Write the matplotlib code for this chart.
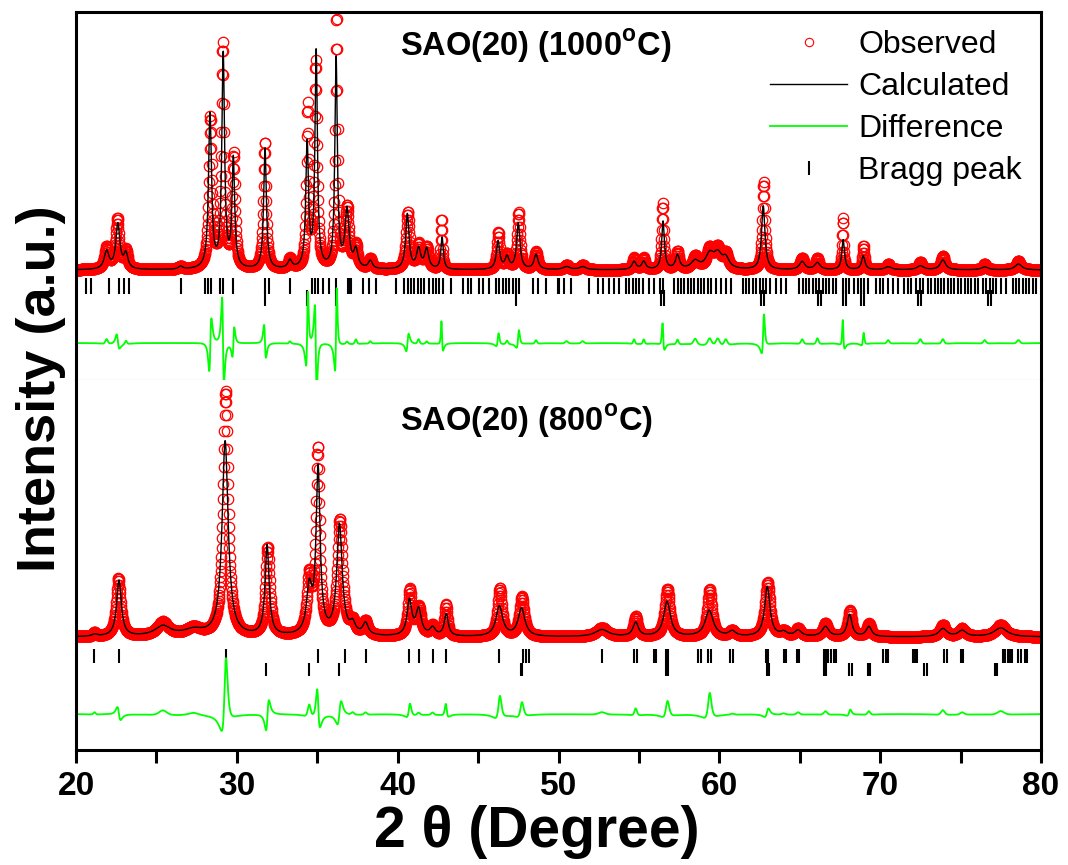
import numpy as np
import matplotlib
matplotlib.use("Agg")
from matplotlib import pyplot as plt
from matplotlib.lines import Line2D

plt.rcParams['font.family'] = ['Liberation Sans', 'DejaVu Sans']
plt.rcParams['mathtext.fontset'] = 'custom'
plt.rcParams['mathtext.rm'] = 'Liberation Sans'
plt.rcParams['mathtext.bf'] = 'Liberation Sans:bold'

# ---- peak tables: position, calc height, obs height, fwhm, obs shift
top_pos = [21.9, 22.6, 23.1, 26.5, 28.33, 29.15, 29.78, 31.75, 33.3, 34.37, 34.93, 36.17,
           36.85, 37.4, 38.3, 40.6, 41.3, 41.8, 42.76, 46.24, 46.8, 47.5, 48.6, 50.5, 51.5,
           54.7, 55.3, 56.5, 57.4, 58.5, 59.4, 59.9, 60.4, 62.73, 65.15, 66.1, 67.7, 68.95,
           70.5, 72.5, 73.9, 76.5, 78.6]
top_calc = [18, 45, 15, 3, 155, 215, 108, 122, 8, 125, 218, 212,
            58, 18, 8, 55, 20, 20, 32, 28, 12, 46, 15, 3, 3,
            8, 8, 48, 14, 8, 14, 14, 10, 64, 8, 7, 30, 14,
            3, 4, 10, 3, 6]
top_obs = [22, 50, 18, 3, 150, 222, 112, 127, 10, 160, 205, 250,
           60, 22, 10, 57, 24, 22, 50, 37, 15, 57, 18, 5, 5,
           12, 12, 66, 18, 13, 20, 20, 15, 88, 12, 12, 52, 24,
           6, 8, 14, 6, 9]
top_fwhm = [0.35, 0.3, 0.3, 0.3, 0.22, 0.2, 0.2, 0.2, 0.3, 0.2, 0.18, 0.18,
            0.3, 0.3, 0.3, 0.25, 0.3, 0.3, 0.18, 0.25, 0.3, 0.25, 0.3, 0.5, 0.5,
            0.3, 0.3, 0.2, 0.3, 0.6, 0.6, 0.6, 0.5, 0.25, 0.4, 0.4, 0.2, 0.25,
            0.5, 0.5, 0.4, 0.5, 0.5]
top_shift = [0, -0.03, 0, 0, 0.03, -0.03, 0.02, -0.02, 0, 0.03, -0.03, 0.02,
             0, 0, 0, 0.03, 0, 0, -0.03, 0.02, 0, 0.02, 0, 0, 0,
             0, 0, -0.02, 0, 0, 0, 0, 0, 0.03, 0, 0, -0.02, 0.02,
             0, 0, 0, 0, 0]

bot_pos = [21.15, 22.67, 25.4, 27.3, 29.27, 31.88, 34.5, 35.05, 36.38, 37.2, 38.0,
           40.73, 41.3, 42.17, 43.02, 46.32, 47.7, 52.7, 54.8, 56.75, 59.37, 60.8,
           62.98, 64.0, 64.9, 66.6, 68.1, 69.3, 73.9, 75.1, 77.5]
bot_calc = [2, 56, 10, 6, 195, 90, 45, 165, 110, 10, 12,
            35, 26, 8, 22, 30, 28, 7, 14, 35, 26, 5,
            50, 4, 6, 10, 22, 10, 8, 6, 9]
bot_obs = [4, 58, 14, 8, 245, 88, 55, 183, 115, 12, 14,
           45, 28, 10, 32, 48, 40, 9, 20, 48, 47, 6,
           54, 5, 8, 13, 26, 13, 12, 8, 12]
bot_fwhm = [0.4, 0.35, 1.2, 1.5, 0.45, 0.3, 0.4, 0.3, 0.4, 0.4, 0.4,
            0.35, 0.4, 0.4, 0.3, 0.5, 0.5, 1.0, 0.4, 0.5, 0.6, 0.5,
            0.4, 0.5, 0.5, 0.5, 0.35, 0.4, 0.6, 0.6, 1.0]
bot_shift = [0, -0.03, 0, 0, 0.03, 0.04, 0, -0.02, 0.03, 0, 0,
             0.02, 0, 0, -0.02, 0.03, 0.02, 0, 0, 0.02, 0.03, 0,
             0.02, 0, 0, 0, 0.02, 0, 0, 0, 0]

# Bragg reflection positions (two phases per pattern)
top_bragg1 = [20.62, 20.93, 22.07, 22.70, 23.00, 23.31, 26.53, 28.04, 28.21, 28.38, 28.96, 29.16,
              29.78, 31.77, 32.02, 33.33, 34.68, 34.84, 35.03, 35.34, 35.71, 36.17, 36.89, 36.99,
              37.10, 37.83, 38.24, 38.66, 39.90, 40.42, 40.62, 40.83, 41.04, 41.25, 41.45, 41.66,
              41.97, 42.18, 42.39, 42.59, 42.80, 43.32, 44.05, 44.36, 44.56, 45.08, 45.29, 45.70,
              46.12, 46.33, 46.53, 46.74, 46.95, 47.16, 47.36, 47.57, 48.40, 48.71, 49.23, 49.96,
              50.06, 50.37, 50.78, 51.92, 52.44, 52.75, 53.17, 53.48, 53.79, 54.20, 54.41, 54.62,
              54.83, 55.03, 55.24, 55.65, 55.96, 56.28, 56.48, 57.21, 57.42, 57.62, 57.83, 58.04,
              58.25, 58.45, 58.66, 58.87, 59.07, 59.28, 59.49, 59.80, 60.11, 60.42, 60.73, 61.46,
              61.67, 61.87, 62.08, 62.29, 62.50, 62.71, 62.91, 63.12, 63.53, 63.84, 64.15, 64.98,
              65.19, 65.40, 65.60, 65.81, 66.02, 66.22, 66.43, 66.64, 66.85, 67.05, 67.26, 67.68,
              67.89, 68.09, 68.40, 68.61, 68.82, 69.02, 69.23, 69.75, 69.96, 70.17, 70.48, 70.79,
              71.10, 71.51, 71.72, 71.93, 72.24, 72.45, 72.65, 72.97, 73.18, 73.38, 73.59, 73.80,
              74.00, 74.21, 74.42, 74.62, 74.83, 75.04, 75.25, 75.45, 75.66, 75.87, 76.08, 76.39,
              76.60, 76.80, 77.01, 77.22, 77.53, 77.84, 78.25, 78.46, 78.66, 78.87, 79.08, 79.28,
              79.49, 79.70]
top_bragg2 = [31.77, 34.37, 36.17, 47.36, 56.38, 56.57, 62.60, 62.80, 66.12, 66.33, 67.68, 67.89,
              68.82, 69.02, 72.34, 72.55, 76.70, 76.90]
bot_bragg1 = [21.14, 22.69, 29.31, 35.07, 36.75, 38.0, 40.73, 41.3, 42.17, 43.02, 46.32, 47.8,
              47.95, 48.15, 52.68, 54.72, 54.86, 55.93, 56.08, 56.68, 56.8, 58.68, 58.84, 59.32,
              59.46, 60.67, 60.83, 62.91, 63.05, 63.99, 64.13, 64.8, 64.95, 66.48, 66.62, 66.78,
              66.94, 67.1, 67.26, 70.2, 70.35, 70.5, 72.03, 72.18, 72.32, 74.0, 74.15, 75.04,
              75.18, 77.63, 77.78, 77.93, 78.08, 78.22, 78.6, 78.75, 78.98, 79.13]
bot_bragg2 = [31.84, 34.51, 36.38, 47.66, 47.76, 56.7, 56.82, 62.96, 63.1, 66.48, 66.62, 68.08,
              68.23, 69.22, 69.34, 72.74, 72.9, 77.11, 77.26]

two_theta = np.arange(20.0, 80.001, 0.02)


def profile(x, pos, h, fwhm, shift=None):
    y = np.zeros_like(x)
    for i in range(len(pos)):
        p = pos[i] + (shift[i] if shift is not None else 0)
        y += h[i] / (1 + ((x - p) / (fwhm[i] / 2)) ** 2)
    return y


def draw_panel(ax, pos, hc, ho, fw, sh, bragg1, bragg2, rows, diff_off, label, ylim):
    calc = profile(two_theta, pos, hc, fw)
    # observed peaks keep the same area, so a taller peak is also narrower
    fw_obs = [fw[i] * hc[i] / ho[i] for i in range(len(pos))]
    obs = profile(two_theta, pos, ho, fw_obs, sh)
    ax.plot(two_theta, obs, ls='none', marker='o', mfc='none', mec='red',
            ms=7.5, mew=0.9)
    ax.plot(two_theta, calc, color='black', lw=1.0)
    ax.vlines(bragg1, rows[0], rows[1], color='black', lw=1.5)
    ax.vlines(bragg2, rows[2], rows[3], color='black', lw=1.5)
    ax.plot(two_theta, obs - calc + diff_off, color='#00ff00', lw=1.3)
    ax.text(40.15, label[1], label[0], fontsize=23.5, fontweight='bold',
            ha='left', va='center')
    ax.set_xlim(20, 80)
    ax.set_ylim(*ylim)
    ax.set_yticks([])


fig = plt.figure(figsize=(10.68, 8.65), dpi=100)
ax1 = fig.add_axes([0.0712, 0.5607, 0.9035, 0.4254])
ax2 = fig.add_axes([0.0712, 0.1329, 0.9035, 0.4278])

draw_panel(ax1, top_pos, top_calc, top_obs, top_fwhm, top_shift, top_bragg1, top_bragg2,
           (-8, -24, -20, -36), -73, (r'SAO(20) (1000$^\mathregular{o}$C)', 224), (-110, 258))
draw_panel(ax2, bot_pos, bot_calc, bot_obs, bot_fwhm, bot_shift, bot_bragg1, bot_bragg2,
           (-12, -26, -26, -39), -77, (r'SAO(20) (800$^\mathregular{o}$C)', 216), (-113, 257))

for ax in (ax1, ax2):
    for s in ('left', 'right', 'top', 'bottom'):
        ax.spines[s].set_linewidth(2.2)
ax1.spines['bottom'].set_color('#b0b0b0')
ax1.spines['bottom'].set_linewidth(0.8)
ax2.spines['top'].set_visible(False)
ax1.set_xticks([])

ax2.set_xticks(np.arange(20, 81, 10))
ax2.set_xticks(np.arange(25, 80, 10), minor=True)
ax2.tick_params(axis='x', which='both', direction='out', length=9, width=2.2, pad=6,
                labelsize=24)
for t in ax2.get_xticklabels():
    t.set_fontweight('bold')
ax2.set_xlabel('2 θ (Degree)', fontsize=41, fontweight='bold')
ax2.xaxis.set_label_coords(0.478, -0.148)

fig.text(0.038, 0.551, 'Intensity (a.u.)', rotation=90, fontsize=39,
         fontweight='bold', ha='center', va='center')

handles = [Line2D([], [], ls='none', marker='o', mfc='none', mec='red', ms=6, mew=0.8),
           Line2D([], [], color='black', lw=1.0),
           Line2D([], [], color='#00ff00', lw=1.3),
           Line2D([], [], ls='none', marker='|', color='black', ms=10, mew=1.5)]
ax1.legend(handles, ['Observed', 'Calculated', 'Difference', 'Bragg peak'],
           loc='upper right', bbox_to_anchor=(1.0, 1.002), frameon=False, fontsize=23,
           handlelength=2.4, handletextpad=0.35, labelspacing=0.37, borderaxespad=0.2,
           numpoints=1)

fig.savefig('out.png', dpi=100)
